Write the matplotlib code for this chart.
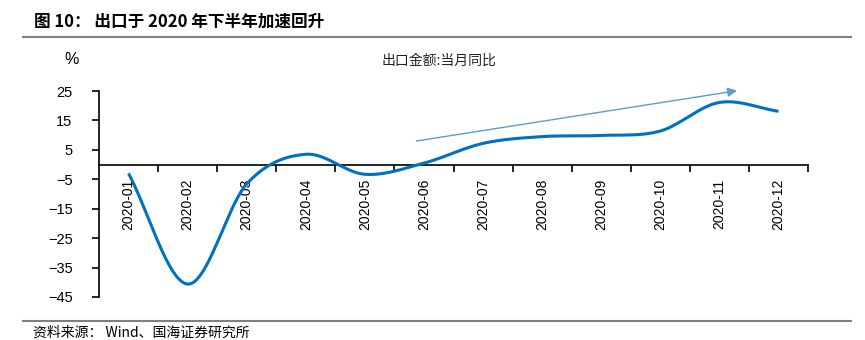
import numpy as np
import matplotlib
matplotlib.use("Agg")
import matplotlib.pyplot as plt
from matplotlib.lines import Line2D

plt.rcParams['font.family'] = ['Liberation Sans', 'Noto Sans CJK SC', 'DejaVu Sans']
plt.rcParams['axes.unicode_minus'] = True

# Monthly export value, year-on-year (%)
months = ["2020-01", "2020-02", "2020-03", "2020-04", "2020-05", "2020-06",
          "2020-07", "2020-08", "2020-09", "2020-10", "2020-11", "2020-12"]
export_yoy = [-3.0, -40.6, -6.6, 3.5, -3.3, 0.5, 7.2, 9.5, 9.9, 11.4, 21.1, 18.1]
y_ticks = [25, 15, 5, -5, -15, -25, -35, -45]

title_text = "图 10： 出口于 2020 年下半年加速回升"
series_name = "出口金额:当月同比"
source_text = "资料来源： Wind、国海证券研究所"

LINE_BLUE = "#0070C0"
ARROW_BLUE = "#5B9BD5"
RULE_GRAY = "#808080"


def catmull_rom(xs, ys, n=40):
    """Smooth curve through the points (uniform Catmull-Rom)."""
    xs = np.asarray(xs, float)
    ys = np.asarray(ys, float)
    px = np.concatenate([[2 * xs[0] - xs[1]], xs, [2 * xs[-1] - xs[-2]]])
    py = np.concatenate([[2 * ys[0] - ys[1]], ys, [2 * ys[-1] - ys[-2]]])
    out_x, out_y = [], []
    t = np.linspace(0, 1, n, endpoint=False)
    for i in range(1, len(px) - 2):
        for p, out in ((px, out_x), (py, out_y)):
            p0, p1, p2, p3 = p[i - 1], p[i], p[i + 1], p[i + 2]
            seg = 0.5 * ((2 * p1) + (-p0 + p2) * t
                         + (2 * p0 - 5 * p1 + 4 * p2 - p3) * t ** 2
                         + (-p0 + 3 * p1 - 3 * p2 + p3) * t ** 3)
            out.extend(seg)
    out_x.append(xs[-1])
    out_y.append(ys[-1])
    return np.array(out_x), np.array(out_y)


fig = plt.figure(figsize=(8.65, 3.4), dpi=100)
ax = fig.add_axes([99 / 865, 43 / 340, 709 / 865, 206 / 340])

x = np.arange(len(months))
sx, sy = catmull_rom(x, export_yoy)
ax.plot(sx, sy, color=LINE_BLUE, lw=2.2, solid_capstyle='butt', zorder=3)

ax.set_xlim(-0.5, len(months) - 0.5)
ax.set_ylim(-45, 25)

for side in ("top", "right"):
    ax.spines[side].set_visible(False)
ax.spines["bottom"].set_position(("data", 0))
ax.spines["bottom"].set_linewidth(1.2)
ax.spines["left"].set_linewidth(1.2)

ax.set_yticks(y_ticks)
ax.set_yticklabels([f"{v}".replace("-", "\u2212") for v in y_ticks], fontsize=10.5)
ax.tick_params(axis='y', direction='out', length=5, width=1.2, pad=14)

# category labels at centers, tick marks at boundaries
ax.set_xticks(x)
ax.set_xticklabels(months, rotation=90, fontsize=10, va='top', ha='center')
ax.set_xticks(np.arange(0.5, len(months), 1.0), minor=True)
ax.tick_params(axis='x', which='major', length=0, pad=10)
ax.tick_params(axis='x', which='minor', direction='out', length=5, width=1.2)

# upward trend arrow over the second half
ax.annotate("", xy=(10.3, 25.1), xytext=(4.87, 8.0),
            arrowprops=dict(arrowstyle='-|>', color=ARROW_BLUE, lw=1.0,
                            mutation_scale=14, shrinkA=0, shrinkB=0),
            zorder=4)

fig.text(72 / 865, 1 - 60 / 340, "%", fontsize=11.5, ha='center', va='center')
fig.text(439 / 865, 1 - 61 / 340, series_name, fontsize=10, ha='center', va='center',
         family=['Noto Sans CJK SC'], color='#222222')

fig.text(34 / 865, 1 - 22 / 340, title_text, fontsize=12, fontweight='bold',
         ha='left', va='center', family=['Noto Sans CJK SC'])
fig.text(33 / 865, 1 - 333 / 340, source_text, fontsize=10, ha='left', va='center',
         family=['Noto Sans CJK SC'])

for yy in (37, 321):
    fig.add_artist(Line2D([23 / 865, 851 / 865], [1 - yy / 340, 1 - yy / 340],
                          color=RULE_GRAY, lw=1.5, transform=fig.transFigure))

fig.savefig("out.png", dpi=100)
